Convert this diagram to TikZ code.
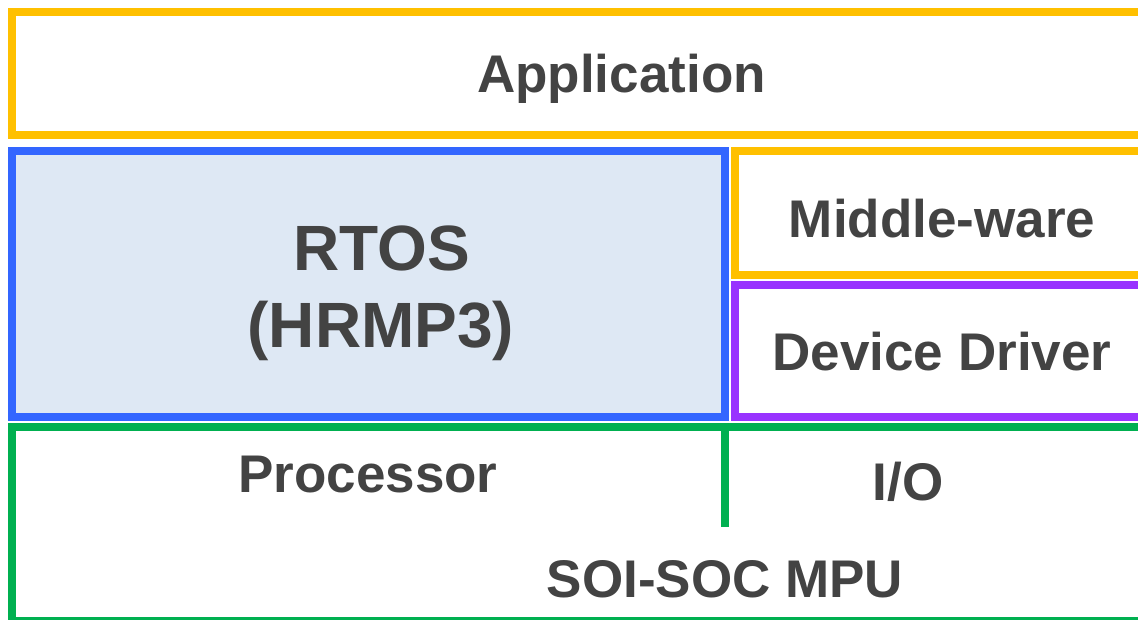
\documentclass[tikz,border=0pt]{standalone}
\usepackage{fontspec}
\setmainfont{Liberation Sans}
\usetikzlibrary{positioning}

\definecolor{appor}{HTML}{FFC000}
\definecolor{osblue}{HTML}{3366FF}
\definecolor{osfill}{HTML}{DEE8F4}
\definecolor{drvpurple}{HTML}{9933FF}
\definecolor{hwgreen}{HTML}{00B050}
\definecolor{txtgray}{HTML}{434343}

\tikzset{
layer/.style={
  rectangle,
  draw,
  line width=8pt,
  inner sep=0pt,
  outer sep=0pt,
},
lbl/.style={
  anchor=base,
  inner sep=0pt,
  text=txtgray,
  font=\fontsize{53}{60}\selectfont\bfseries,
},
biglbl/.style={
  lbl,
  font=\fontsize{64}{77}\selectfont\bfseries,
},
}

\begin{document}
\begin{tikzpicture}[x=1pt,y=-1pt]
\clip (0,0) rectangle (1138,619);
\fill[white] (0,0) rectangle (1138,619);

% layers
\node[layer,draw=appor,minimum width=1138pt,minimum height=123pt] (app) at (581,73.5) {};
\node[layer,draw=osblue,fill=osfill,minimum width=713pt,minimum height=266pt] (rtos) at (368.5,284) {};
\node[layer,draw=appor,minimum width=415pt,minimum height=124pt] (mw) at (942.5,213) {};
\node[layer,draw=drvpurple,minimum width=415pt,minimum height=132pt] (dd) at (942.5,351) {};
\node[layer,draw=hwgreen,minimum width=1138pt,minimum height=194pt] (soc) at (581,524) {};
\draw[hwgreen,line width=8pt] (rtos.south east |- soc.north) -- ++(0,100);

% labels
\node[lbl] (appl) at (621.5,92) {Application};
\node[biglbl] (rtosl) at (382,270) {RTOS};
\node[biglbl] (hrmpl) at (381,347) {(HRMP3)};
\node[lbl] (mwl) at (942,237) {Middle-ware};
\node[lbl] (ddl) at (942,370) {Device Driver};
\node[lbl] (cpul) at (368,492) {Processor};
\node[lbl] (iol) at (908,500) {I/O};
\node[lbl] (socl) at (725,597) {SOI-SOC MPU};
\end{tikzpicture}
\end{document}
